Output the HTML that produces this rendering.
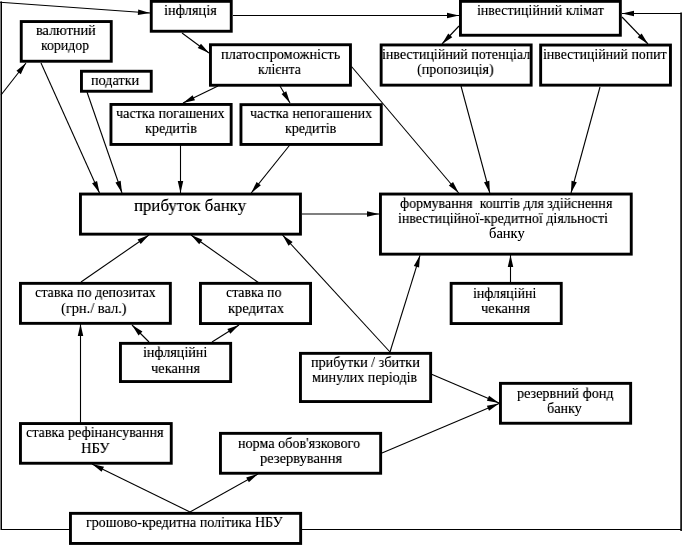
<!DOCTYPE html>
<html><head><meta charset="utf-8"><style>
html,body{margin:0;padding:0;background:#fff;}
body{width:683px;height:546px;position:relative;overflow:hidden;}
.t{position:absolute;white-space:pre;font-family:"Liberation Serif",serif;line-height:20px;color:#000;transform-origin:0 0;will-change:transform;filter:url(#sh);}
svg{position:absolute;left:0;top:0;}
svg polyline{fill:none;stroke:#000;stroke-width:1.1;}
svg polygon{fill:#000;stroke:none;}
svg rect{fill:none;stroke:#000;stroke-width:2.9;}
</style></head><body>
<svg width="683" height="546" viewBox="0 0 683 546">
<defs><filter id="sh" x="-5%" y="-20%" width="110%" height="140%"><feComponentTransfer><feFuncA type="linear" slope="1.2" intercept="0"/></feComponentTransfer></filter></defs>
<polyline points="0,2.3 150,13"/>
<polygon points="150.00,13.00 137.83,14.89 138.23,9.40"/>
<polyline points="233,15.5 459,15.5"/>
<polygon points="459.00,15.50 447.00,18.25 447.00,12.75"/>
<polyline points="182,33 209,53"/>
<polygon points="209.00,53.00 197.72,48.07 200.99,43.65"/>
<polyline points="459,26 442,44"/>
<polygon points="442.00,44.00 448.24,33.39 452.24,37.16"/>
<polyline points="622,17 648,44"/>
<polygon points="648.00,44.00 637.70,37.26 641.66,33.45"/>
<polyline points="681.1,531 681.1,12.5" style="stroke-width:1.6"/>
<polyline points="681,13.5 622,13.5" style="stroke-width:1.0"/>
<polygon points="622.00,13.50 634.00,10.75 634.00,16.25"/>
<polyline points="301,529.5 681,529.5"/>
<polyline points="1.25,1.5 1.25,530" style="stroke-width:1.5"/>
<polyline points="1,529.5 70,529.5"/>
<polyline points="1,95 26,63"/>
<polygon points="26.00,63.00 20.78,74.15 16.45,70.76"/>
<polyline points="41,63 99.5,193"/>
<polygon points="99.50,193.00 92.07,183.19 97.08,180.93"/>
<polyline points="87,92 122,193"/>
<polygon points="122.00,193.00 115.47,182.56 120.67,180.76"/>
<polyline points="218,86 183,103"/>
<polygon points="183.00,103.00 192.59,95.28 195.00,100.23"/>
<polyline points="280,86 290,103"/>
<polygon points="290.00,103.00 281.55,94.05 286.29,91.26"/>
<polyline points="351.5,66.5 458.7,193"/>
<polygon points="458.70,193.00 448.84,185.62 453.04,182.07"/>
<polyline points="180.5,145 180.5,193"/>
<polygon points="180.50,193.00 177.75,181.00 183.25,181.00"/>
<polyline points="289.8,145 251.2,193"/>
<polygon points="251.20,193.00 256.58,181.93 260.86,185.37"/>
<polyline points="461,86 489.8,193"/>
<polygon points="489.80,193.00 484.03,182.13 489.34,180.70"/>
<polyline points="600,87 571,193"/>
<polygon points="571.00,193.00 571.51,180.70 576.82,182.15"/>
<polyline points="302,214 379,214"/>
<polygon points="379.00,214.00 367.00,216.75 367.00,211.25"/>
<polyline points="81,282 149,235"/>
<polygon points="149.00,235.00 140.69,244.09 137.56,239.56"/>
<polyline points="259,283 191,235"/>
<polygon points="191.00,235.00 202.39,239.67 199.22,244.17"/>
<polyline points="390,352 282.5,235"/>
<polygon points="282.50,235.00 292.64,241.98 288.59,245.70"/>
<polyline points="390,352 420,255.3"/>
<polygon points="420.00,255.30 419.07,267.58 413.82,265.95"/>
<polyline points="510.5,283 510.5,255"/>
<polygon points="510.50,255.00 513.25,267.00 507.75,267.00"/>
<polyline points="149,342 132,325"/>
<polygon points="132.00,325.00 142.43,331.54 138.54,335.43"/>
<polyline points="212,342 239,325"/>
<polygon points="239.00,325.00 230.31,333.72 227.38,329.07"/>
<polyline points="431,374 499,403"/>
<polygon points="499.00,403.00 486.88,400.82 489.04,395.76"/>
<polyline points="382,453 499,403.5"/>
<polygon points="499.00,403.50 489.02,410.71 486.88,405.64"/>
<polyline points="80.5,423 80.5,324"/>
<polygon points="80.50,324.00 83.25,336.00 77.75,336.00"/>
<polyline points="190,512 92,464"/>
<polygon points="92.00,464.00 103.99,466.81 101.57,471.75"/>
<polyline points="190,512 258,474"/>
<polygon points="258.00,474.00 248.87,482.25 246.18,477.45"/>
<rect x="151.25" y="1.35" width="80.00" height="29.90"/>
<rect x="460.45" y="1.35" width="159.90" height="33.90"/>
<rect x="21.25" y="21.55" width="90.00" height="39.70"/>
<rect x="210.45" y="44.75" width="140.00" height="40.50"/>
<rect x="381.15" y="44.95" width="150.00" height="40.20"/>
<rect x="540.65" y="45.05" width="129.80" height="40.10"/>
<rect x="81.45" y="71.25" width="69.80" height="20.00"/>
<rect x="110.95" y="104.45" width="120.20" height="40.00"/>
<rect x="240.95" y="104.65" width="140.30" height="39.80"/>
<rect x="80.45" y="194.05" width="220.00" height="40.10"/>
<rect x="380.45" y="194.05" width="250.80" height="60.10"/>
<rect x="20.45" y="283.35" width="149.90" height="40.00"/>
<rect x="200.45" y="283.35" width="110.10" height="40.20"/>
<rect x="451.15" y="283.35" width="110.10" height="40.20"/>
<rect x="120.45" y="343.35" width="110.20" height="38.20"/>
<rect x="300.45" y="353.35" width="130.20" height="48.20"/>
<rect x="500.45" y="383.35" width="130.20" height="39.90"/>
<rect x="20.45" y="423.55" width="150.80" height="39.70"/>
<rect x="220.45" y="433.35" width="160.20" height="39.90"/>
<rect x="70.45" y="513.35" width="230.20" height="30.10"/>
</svg>
<div class="t" style="left:164.07px;top:-0.23px;font-size:15.5px;transform:scaleX(0.9291)">інфляція</div>
<div class="t" style="left:476.70px;top:-0.43px;font-size:15.5px;transform:scaleX(0.8979)">інвестиційний клімат</div>
<div class="t" style="left:36.08px;top:20.37px;font-size:15.5px;transform:scaleX(0.9222)">валютний</div>
<div class="t" style="left:41.41px;top:35.37px;font-size:15.5px;transform:scaleX(0.8906)">коридор</div>
<div class="t" style="left:220.97px;top:43.87px;font-size:15.5px;transform:scaleX(0.9260)">платоспроможність</div>
<div class="t" style="left:258.31px;top:58.57px;font-size:15.5px;transform:scaleX(0.8851)">клієнта</div>
<div class="t" style="left:382.30px;top:44.37px;font-size:15.5px;transform:scaleX(0.9049)">інвестиційний потенціал</div>
<div class="t" style="left:416.89px;top:59.07px;font-size:15.5px;transform:scaleX(0.9084)">(пропозиція)</div>
<div class="t" style="left:542.90px;top:43.67px;font-size:15.5px;transform:scaleX(0.8956)">інвестиційний попит</div>
<div class="t" style="left:91.18px;top:69.77px;font-size:15.5px;transform:scaleX(0.9157)">податки</div>
<div class="t" style="left:116.19px;top:103.37px;font-size:15.5px;transform:scaleX(0.9145)">частка погашених</div>
<div class="t" style="left:145.08px;top:118.17px;font-size:15.5px;transform:scaleX(0.9182)">кредитів</div>
<div class="t" style="left:250.29px;top:102.57px;font-size:15.5px;transform:scaleX(0.9114)">частка непогашених</div>
<div class="t" style="left:284.99px;top:118.17px;font-size:15.5px;transform:scaleX(0.9055)">кредитів</div>
<div class="t" style="left:134.44px;top:194.59px;font-size:17.5px;transform:scaleX(0.9617)">прибуток банку</div>
<div class="t" style="left:400.00px;top:193.01px;font-size:14.5px;transform:scaleX(0.9627)">формування  коштів для здійснення</div>
<div class="t" style="left:398.04px;top:207.61px;font-size:14.5px;transform:scaleX(0.9630)">інвестиційної-кредитної діяльності</div>
<div class="t" style="left:489.01px;top:222.61px;font-size:14.5px;transform:scaleX(0.9912)">банку</div>
<div class="t" style="left:34.99px;top:281.57px;font-size:15.5px;transform:scaleX(0.9092)">ставка по депозитах</div>
<div class="t" style="left:61.07px;top:297.57px;font-size:15.5px;transform:scaleX(0.9304)">(грн./ вал.)</div>
<div class="t" style="left:225.71px;top:281.67px;font-size:15.5px;transform:scaleX(0.8918)">ставка по</div>
<div class="t" style="left:227.86px;top:297.97px;font-size:15.5px;transform:scaleX(0.9379)">кредитах</div>
<div class="t" style="left:473.10px;top:283.27px;font-size:15.5px;transform:scaleX(0.8971)">інфляційні</div>
<div class="t" style="left:480.77px;top:297.57px;font-size:15.5px;transform:scaleX(0.9314)">чекання</div>
<div class="t" style="left:143.09px;top:341.67px;font-size:15.5px;transform:scaleX(0.9101)">інфляційні</div>
<div class="t" style="left:150.77px;top:357.57px;font-size:15.5px;transform:scaleX(0.9314)">чекання</div>
<div class="t" style="left:310.99px;top:352.47px;font-size:15.5px;transform:scaleX(0.9145)">прибутки / збитки</div>
<div class="t" style="left:311.84px;top:367.07px;font-size:15.5px;transform:scaleX(0.9136)">минулих періодів</div>
<div class="t" style="left:517.19px;top:383.47px;font-size:15.5px;transform:scaleX(0.9144)">резервний фонд</div>
<div class="t" style="left:547.29px;top:397.57px;font-size:15.5px;transform:scaleX(0.9135)">банку</div>
<div class="t" style="left:25.99px;top:422.47px;font-size:15.5px;transform:scaleX(0.9114)">ставка рефінансування</div>
<div class="t" style="left:80.76px;top:437.67px;font-size:15.5px;transform:scaleX(0.9379)">НБУ</div>
<div class="t" style="left:238.29px;top:432.77px;font-size:15.5px;transform:scaleX(0.9113)">норма обов'язкового</div>
<div class="t" style="left:259.87px;top:447.77px;font-size:15.5px;transform:scaleX(0.9349)">резервування</div>
<div class="t" style="left:86.09px;top:511.57px;font-size:15.5px;transform:scaleX(0.9051)">грошово-кредитна політика НБУ</div>
</body></html>
